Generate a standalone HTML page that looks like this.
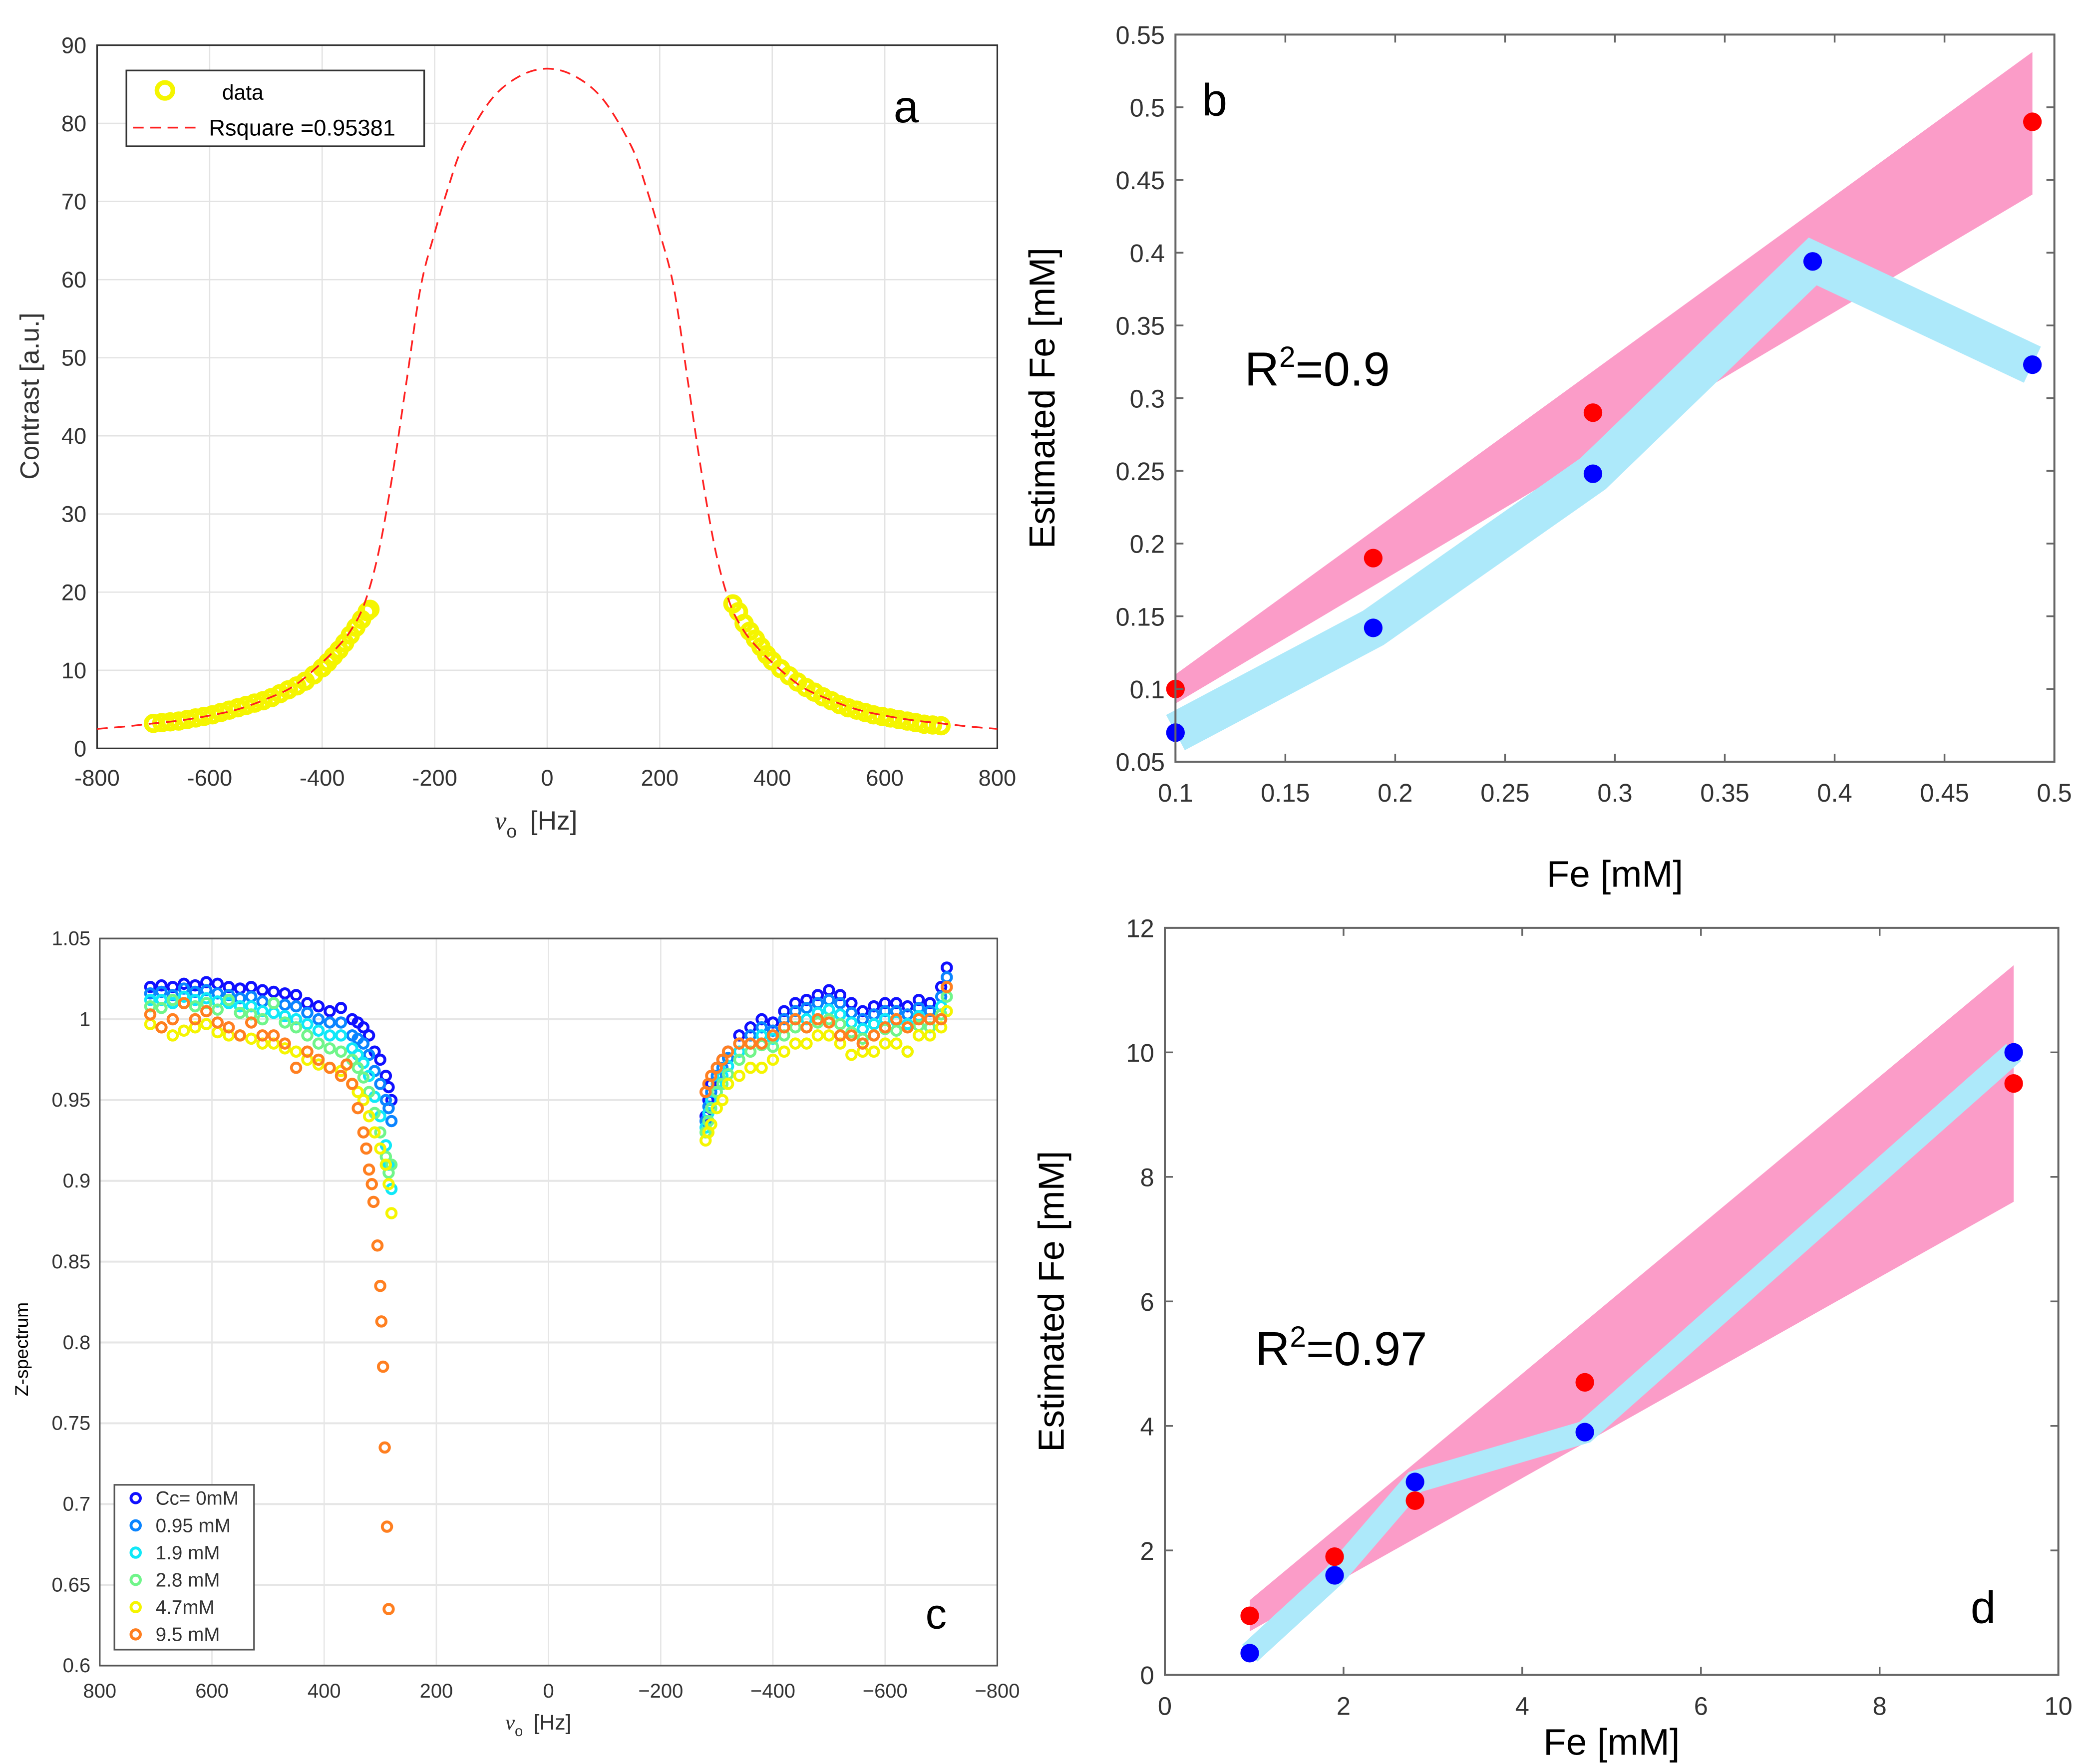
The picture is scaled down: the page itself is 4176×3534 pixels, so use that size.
<!DOCTYPE html>
<html><head><meta charset="utf-8"><style>
html,body{margin:0;padding:0;background:#fff}
svg{display:block;font-family:"Liberation Sans",sans-serif}
</style></head><body>
<svg id="s" width="4176" height="3534" viewBox="0 0 1568 1327" xmlns="http://www.w3.org/2000/svg"></svg>
<script>
// ---- Panel a data ----
const aFitX=[-800,-750,-700,-650,-600,-550,-500,-450,-400,-375,-350,-325,-300,-275,-250,-225,-200,-175,-150,-100,-50,0,50,100,150,175,200,225,250,275,300,325,350,375,400,450,500,550,600,650,700,750,800];
const aFitY=[2.5,2.8,3.2,3.6,4.2,5,6.3,8,11,12.8,15,18.5,25,35,47,59,66,72,77,83,86,87,86,83,77,72,66,59,47,35,25,18.5,15,12.8,11,8,6.3,5,4.2,3.6,3.2,2.8,2.5];
const aDataX=[-700,-685,-670,-655,-640,-625,-610,-595,-580,-565,-550,-535,-520,-505,-490,-475,-460,-445,-430,-415,-400,-390,-380,-370,-360,-350,-340,-330,-320,-315,
 330,340,350,360,370,380,390,400,415,430,445,460,475,490,505,520,535,550,565,580,595,610,625,640,655,670,685,700];
const aDataY=[3.2,3.3,3.4,3.5,3.7,3.9,4.1,4.3,4.6,4.9,5.2,5.5,5.8,6.1,6.5,7,7.5,8,8.6,9.4,10.3,11,11.8,12.6,13.5,14.5,15.5,16.5,17.5,17.8,
 18.5,17.5,16,15,14,13,12,11.2,10.2,9.3,8.5,7.8,7.2,6.6,6.1,5.6,5.2,4.9,4.6,4.3,4.1,3.9,3.7,3.5,3.3,3.1,3,2.9];
const aXTicks=[-800,-600,-400,-200,0,200,400,600,800];
const aYTicks=[0,10,20,30,40,50,60,70,80,90];
// ---- Panel b data ----
const bX=[0.1,0.19,0.29,0.39,0.49];
const bRed=[0.1,0.19,0.29,null,0.49];
const bBlue=[0.07,0.142,0.248,0.394,0.323];
const bBandX=[0.1,0.49];
const bBandUp=[0.11,0.538];
const bBandLo=[0.09,0.44];
const bXTicks=[0.1,0.15,0.2,0.25,0.3,0.35,0.4,0.45,0.5];
const bYTicks=[0.05,0.1,0.15,0.2,0.25,0.3,0.35,0.4,0.45,0.5,0.55];
// ---- Panel c data ----
const cNames=["Cc= 0mM","0.95 mM","1.9 mM","2.8 mM","4.7mM","9.5 mM"];
const cColors=["#1010ff","#0a84ff","#10e8f8","#70f58a","#f5f500","#ff7f20"];
const cLX=[710,690,670,650,630,610,590,570,550,530,510,490,470,450,430,410,390,370,350,340,330,320,310,300,290,285,280];
const cL0=[1.02,1.021,1.02,1.022,1.021,1.023,1.022,1.02,1.019,1.02,1.018,1.017,1.016,1.015,1.01,1.008,1.005,1.007,1.0,0.998,0.995,0.99,0.98,0.975,0.965,0.958,0.95];
const cL1=[1.016,1.017,1.015,1.019,1.017,1.018,1.016,1.015,1.013,1.014,1.011,1.01,1.009,1.008,1.004,1.0,0.998,0.998,0.99,0.988,0.985,0.978,0.968,0.96,0.95,0.945,0.937];
const cL2=[1.012,1.012,1.01,1.014,1.012,1.013,1.011,1.01,1.008,1.008,1.005,1.004,1.002,1.0,0.997,0.993,0.99,0.99,0.982,0.978,0.973,0.965,0.952,0.94,0.922,0.91,0.895];
const cL3=[1.008,1.007,1.012,1.01,1.008,1.01,1.006,1.012,1.004,1.003,1.0,1.01,0.998,0.995,0.99,0.985,0.982,0.98,0.975,0.97,0.964,0.955,0.942,0.93,0.915,0.905,0.91];
const cL4=[0.997,0.995,0.99,0.993,0.995,0.997,0.992,0.99,0.99,0.988,0.985,0.985,0.982,0.98,0.975,0.972,0.97,0.968,0.96,0.955,0.95,0.94,0.93,0.92,0.91,0.898,0.88];
const cL5X=[710,690,670,650,630,610,590,570,550,530,510,490,470,450,430,410,390,370,360,350,340,330,325,320,315,312,305,300,298,295,292,288,285];
const cL5=[1.003,0.995,1.0,1.01,1.0,1.005,0.998,0.995,0.99,0.998,0.99,0.99,0.985,0.97,0.98,0.975,0.97,0.965,0.972,0.96,0.945,0.93,0.92,0.907,0.898,0.887,0.86,0.835,0.813,0.785,0.735,0.686,0.635];
const cRX=[-280,-285,-290,-300,-310,-320,-340,-360,-380,-400,-420,-440,-460,-480,-500,-520,-540,-560,-580,-600,-620,-640,-660,-680,-700,-710];
const cR0=[0.94,0.95,0.96,0.97,0.975,0.98,0.99,0.995,1.0,0.998,1.005,1.01,1.012,1.015,1.018,1.015,1.01,1.005,1.008,1.01,1.01,1.008,1.012,1.01,1.02,1.032];
const cR1=[0.937,0.946,0.955,0.965,0.97,0.976,0.985,0.99,0.995,0.993,1.0,1.005,1.007,1.01,1.012,1.01,1.004,1.0,1.003,1.005,1.005,1.003,1.007,1.005,1.014,1.026];
const cR2=[0.933,0.942,0.95,0.96,0.965,0.971,0.98,0.985,0.99,0.988,0.995,1.0,1.0,1.004,1.006,1.003,0.998,0.994,0.997,1.0,0.999,0.997,1.002,1.0,1.008,1.02];
const cR3=[0.93,0.937,0.945,0.955,0.96,0.966,0.975,0.98,0.984,0.983,0.99,0.995,0.995,0.998,1.0,0.997,0.992,0.988,0.99,0.994,0.993,0.98,0.996,0.995,1.003,1.014];
const cR4=[0.925,0.93,0.935,0.945,0.95,0.96,0.965,0.97,0.97,0.975,0.98,0.985,0.985,0.99,0.99,0.985,0.978,0.98,0.98,0.985,0.985,0.98,0.99,0.99,0.995,1.005];
const cR5=[0.955,0.96,0.965,0.97,0.975,0.98,0.985,0.985,0.985,0.99,0.995,1.0,0.995,1.0,0.998,0.99,0.99,0.985,0.99,0.995,1.0,0.995,1.0,1.0,1.0,1.02];
const cXTicks=[800,600,400,200,0,-200,-400,-600,-800];
const cYTicks=[0.6,0.65,0.7,0.75,0.8,0.85,0.9,0.95,1,1.05];
// ---- Panel d data ----
const dX=[0.95,1.9,2.8,4.7,9.5];
const dRed=[0.95,1.9,2.8,4.7,9.5];
const dBlue=[0.35,1.6,3.1,3.9,10];
const dBandX=[0.95,9.5];
const dBandUp=[1.2,11.4];
const dBandLo=[0.7,7.6];
const dXTicks=[0,2,4,6,8,10];
const dYTicks=[0,2,4,6,8,10,12];

const S=document.getElementById('s');
const NS='http://www.w3.org/2000/svg';
function el(tag,attrs,parent,text){const e=document.createElementNS(NS,tag);for(const k in attrs)e.setAttribute(k,attrs[k]);if(text!==undefined)e.textContent=text;(parent||S).appendChild(e);return e;}
function lin(d0,d1,p0,p1){return v=>p0+(v-d0)*(p1-p0)/(d1-d0);}
function fmt(v){return String(v).replace('-','\u2212');}
function smoothPath(pts){let d='M'+pts[0][0]+','+pts[0][1];
 for(let i=0;i<pts.length-1;i++){const p0=pts[Math.max(0,i-1)],p1=pts[i],p2=pts[i+1],p3=pts[Math.min(pts.length-1,i+2)];
  const c1=[p1[0]+(p2[0]-p0[0])/6,p1[1]+(p2[1]-p0[1])/6],c2=[p2[0]-(p3[0]-p1[0])/6,p2[1]-(p3[1]-p1[1])/6];
  d+=' C'+c1[0]+','+c1[1]+' '+c2[0]+','+c2[1]+' '+p2[0]+','+p2[1];}
 return d;}

// ===== Panel a =====
(function(){
const g=el('g',{});


const L=73,R=750,T=34,B=563;const X=lin(-800,800,L,R),Y=lin(0,90,B,T);
aXTicks.forEach(t=>{const l=el('line',{x1:X(t),x2:X(t),y1:T,y2:B,stroke:'#e3e3e3','stroke-width':1},g);
 const tx=el('text',{x:X(t),y:B+28,'font-size':17,'text-anchor':'middle',fill:'#333'},g,String(t));});
aYTicks.forEach(t=>{const l=el('line',{x1:L,x2:R,y1:Y(t),y2:Y(t),stroke:'#e3e3e3','stroke-width':1},g);
 const tx=el('text',{x:L-8,y:Y(t)+6,'font-size':17,'text-anchor':'end',fill:'#333'},g,String(t));});
const bx=el('rect',{x:L,y:T,width:R-L,height:B-T,fill:'none',stroke:'#333','stroke-width':1.2},g);
for(let i=0;i<aDataX.length;i++){const c=el('circle',{cx:X(aDataX[i]),cy:Y(aDataY[i]),r:5.5,fill:'none',stroke:'#f5f500','stroke-width':3.5},g);}
const p=el('path',{d:smoothPath(aFitX.map((x,i)=>[X(x),Y(aFitY[i])])),fill:'none',stroke:'#ff2020','stroke-width':1.3,'stroke-dasharray':'8,5'},g);
const lg=el('g',{},g);
el('rect',{x:95,y:53,width:224,height:57,fill:'#fff',stroke:'#333','stroke-width':1.2},lg);
el('circle',{cx:124,cy:68,r:6,fill:'none',stroke:'#f5f500','stroke-width':3.5},lg);
el('text',{x:167,y:75,'font-size':16,fill:'#000'},lg,'data');
el('line',{x1:100,x2:148,y1:96,y2:96,stroke:'#ff2020','stroke-width':1.3,'stroke-dasharray':'8,5'},lg);
el('text',{x:157,y:102,'font-size':17,fill:'#000'},lg,'Rsquare =0.95381');
const yl=el('text',{x:0,y:0,'font-size':20,'text-anchor':'middle',fill:'#333',transform:'translate(29,298) rotate(-90)'},g,'Contrast [a.u.]');
const xl=el('text',{x:372,y:624,'font-size':20,fill:'#333'},g);
el('tspan',{'font-style':'italic','font-family':'Liberation Serif,serif'},xl,'\u03bd');el('tspan',{dy:6,'font-size':14},xl,'o');el('tspan',{dy:-6,dx:10},xl,'[Hz]');
const pl=el('text',{x:672,y:92,'font-size':34,fill:'#000'},g,'a');
})();

// ===== Panel b & d helper =====
function scatterPanel(name,L,R,T,B,xd,yd,xT,yT,xs,red,blue,bx,bu,bl,blueW,lbl,lblPos,r2,r2Pos,ylabX,xlabY){
const g=el('g',{});


const X=lin(xd[0],xd[1],L,R),Y=lin(yd[0],yd[1],B,T);
const band=el('polygon',{points:[X(bx[0])+','+Y(bu[0]),X(bx[1])+','+Y(bu[1]),X(bx[1])+','+Y(bl[1]),X(bx[0])+','+Y(bl[0])].join(' '),fill:'#fb9cc8'},g);

const bb=el('polyline',{points:xs.map((x,i)=>X(x)+','+Y(blue[i])).join(' '),fill:'none',stroke:'#ade9fa','stroke-width':blueW,'stroke-linejoin':'miter','stroke-miterlimit':4},g);

xs.forEach((x,i)=>{if(red[i]!==null){const c=el('circle',{cx:X(x),cy:Y(red[i]),r:7,fill:'#ff0000'},g);}});
xs.forEach((x,i)=>{const c=el('circle',{cx:X(x),cy:Y(blue[i]),r:7,fill:'#0000ff'},g);});
const box=el('rect',{x:L,y:T,width:R-L,height:B-T,fill:'none',stroke:'#666','stroke-width':1.5},g);
xT.forEach(t=>{el('line',{x1:X(t),x2:X(t),y1:B,y2:B-6,stroke:'#666','stroke-width':1.3},g);el('line',{x1:X(t),x2:X(t),y1:T,y2:T+6,stroke:'#666','stroke-width':1.3},g);
 const tx=el('text',{x:X(t),y:B+30,'font-size':19,'text-anchor':'middle',fill:'#333'},g,String(t));});
yT.forEach(t=>{el('line',{x1:L,x2:L+6,y1:Y(t),y2:Y(t),stroke:'#666','stroke-width':1.3},g);el('line',{x1:R,x2:R-6,y1:Y(t),y2:Y(t),stroke:'#666','stroke-width':1.3},g);
 const tx=el('text',{x:L-8,y:Y(t)+7,'font-size':19,'text-anchor':'end',fill:'#333'},g,String(t));});
const yl=el('text',{x:0,y:0,'font-size':27,'text-anchor':'middle',fill:'#000',transform:'translate('+ylabX+','+((T+B)/2)+') rotate(-90)'},g,'Estimated Fe [mM]');
const xl=el('text',{x:(L+R)/2,y:xlabY,'font-size':28,'text-anchor':'middle',fill:'#000'},g,'Fe [mM]');
const pl=el('text',{x:lblPos[0],y:lblPos[1],'font-size':34,fill:'#000'},g,lbl);
const rt=el('text',{x:r2Pos[0],y:r2Pos[1],'font-size':36,fill:'#000'},g);
el('tspan',{},rt,'R');el('tspan',{dy:-14,'font-size':22},rt,'2');el('tspan',{dy:14},rt,'='+r2);
}
scatterPanel('panel-b',884,1545,26,573,[0.1,0.5],[0.05,0.55],bXTicks,bYTicks,bX,bRed,bBlue,bBandX,bBandUp,bBandLo,30,'b',[904,87],'0.9',[936,290],793,667);
scatterPanel('panel-d',876,1548,698,1260,[0,10],[0,12],dXTicks,dYTicks,dX,dRed,dBlue,dBandX,dBandUp,dBandLo,17,'d',[1482,1221],'0.97',[944,1027],800,1320);

// ===== Panel c =====
(function(){
const g=el('g',{});


const L=75,R=750,T=706,B=1253;const X=lin(800,-800,L,R),Y=lin(0.6,1.05,B,T);
cXTicks.forEach(t=>{const l=el('line',{x1:X(t),x2:X(t),y1:T,y2:B,stroke:'#e6e6e6','stroke-width':1},g);
 const tx=el('text',{x:X(t),y:B+24,'font-size':15,'text-anchor':'middle',fill:'#333'},g,fmt(t));});
cYTicks.forEach(t=>{const l=el('line',{x1:L,x2:R,y1:Y(t),y2:Y(t),stroke:'#e6e6e6','stroke-width':1.5},g);
 const tx=el('text',{x:L-7,y:Y(t)+5,'font-size':15,'text-anchor':'end',fill:'#333'},g,String(t));});
const bx=el('rect',{x:L,y:T,width:R-L,height:B-T,fill:'none',stroke:'#555','stroke-width':1.2},g);
const LS=[cL0,cL1,cL2,cL3,cL4,cL5],RS=[cR0,cR1,cR2,cR3,cR4,cR5];
for(let s=0;s<6;s++){
 const xs=s===5?cL5X:cLX;
 xs.forEach((x,i)=>{const c=el('circle',{cx:X(x),cy:Y(LS[s][i]),r:3.5,fill:'none',stroke:cColors[s],'stroke-width':2.2},g);});
 cRX.forEach((x,i)=>{const c=el('circle',{cx:X(x),cy:Y(RS[s][i]),r:3.5,fill:'none',stroke:cColors[s],'stroke-width':2.2},g);});
}
const lg=el('g',{},g);
el('rect',{x:86,y:1117,width:105,height:124,fill:'#fff',stroke:'#555','stroke-width':1.2},lg);
cNames.forEach((n,i)=>{const y=1127+i*20.5;
 const e=el('g',{},lg);
 el('circle',{cx:102,cy:y,r:3.5,fill:'none',stroke:cColors[i],'stroke-width':2.2},e);
 el('text',{x:117,y:y+5,'font-size':14.5,fill:'#333'},e,n);});
const yl=el('text',{x:0,y:0,'font-size':14,'text-anchor':'middle',fill:'#000',transform:'translate(21,1015) rotate(-90)'},g,'Z-spectrum');
const xl=el('text',{x:380,y:1301,'font-size':16,fill:'#333'},g);
el('tspan',{'font-style':'italic','font-family':'Liberation Serif,serif'},xl,'\u03bd');el('tspan',{dy:5,'font-size':11},xl,'o');el('tspan',{dy:-5,dx:8},xl,'[Hz]');
const pl=el('text',{x:696,y:1225,'font-size':32,fill:'#000'},g,'c');
})();
</script>
</body></html>
